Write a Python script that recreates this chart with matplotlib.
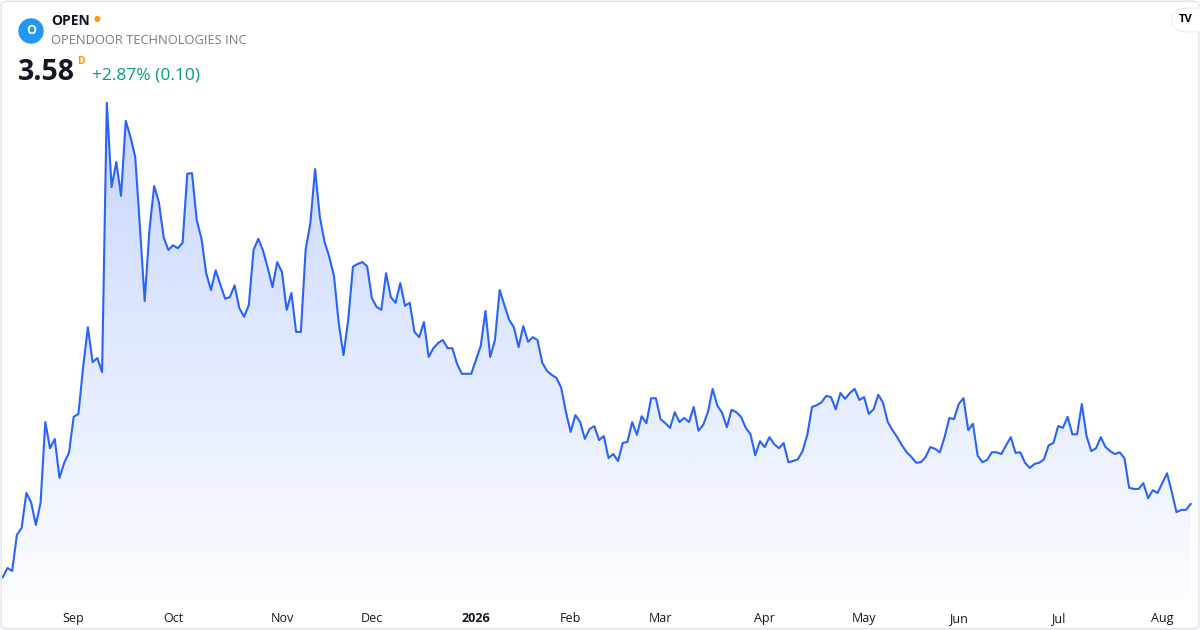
import matplotlib
matplotlib.use("Agg")
import matplotlib.pyplot as plt
import numpy as np
from matplotlib.colors import to_rgb
from matplotlib.patches import Circle, FancyBboxPatch

plt.rcParams["font.family"] = ["Open Sans", "DejaVu Sans"]

# daily closes (one per trading day)
prices = [
    2.32, 2.48, 2.43, 3.05, 3.17, 3.77, 3.61, 3.22, 3.60, 4.99,
    4.54, 4.70, 4.03, 4.29, 4.46, 5.08, 5.13, 5.94, 6.62, 6.02,
    6.09, 5.85, 10.48, 9.03, 9.46, 8.88, 10.17, 9.89, 9.55, 8.34,
    7.07, 8.29, 9.05, 8.77, 8.17, 7.95, 8.03, 7.98, 8.07, 9.26,
    9.27, 8.46, 8.14, 7.55, 7.26, 7.60, 7.35, 7.11, 7.14, 7.34,
    6.95, 6.80, 7.00, 7.95, 8.14, 7.94, 7.64, 7.31, 7.74, 7.57,
    6.92, 7.21, 6.54, 6.54, 7.95, 8.41, 9.34, 8.52, 8.09, 7.83,
    7.50, 6.69, 6.14, 6.75, 7.66, 7.71, 7.74, 7.67, 7.12, 6.97,
    6.92, 7.55, 7.14, 7.04, 7.38, 6.99, 7.04, 6.54, 6.45, 6.71,
    6.11, 6.26, 6.35, 6.40, 6.26, 6.26, 5.99, 5.82, 5.82, 5.82,
    6.06, 6.30, 6.90, 6.11, 6.40, 7.26, 7.00, 6.75, 6.62, 6.28,
    6.64, 6.37, 6.45, 6.40, 6.01, 5.87, 5.80, 5.75, 5.58, 5.16,
    4.82, 5.11, 4.99, 4.70, 4.87, 4.92, 4.68, 4.75, 4.37, 4.44,
    4.32, 4.63, 4.65, 4.99, 4.77, 5.09, 4.97, 5.40, 5.40, 5.04,
    4.97, 4.89, 5.16, 4.99, 5.06, 4.99, 5.25, 4.84, 4.94, 5.16,
    5.56, 5.27, 5.15, 4.90, 5.20, 5.16, 5.08, 4.89, 4.78, 4.42,
    4.66, 4.56, 4.73, 4.61, 4.54, 4.63, 4.30, 4.32, 4.35, 4.49,
    4.77, 5.25, 5.28, 5.33, 5.44, 5.42, 5.21, 5.49, 5.39, 5.49,
    5.56, 5.37, 5.42, 5.13, 5.21, 5.46, 5.32, 4.99, 4.85, 4.73,
    4.59, 4.47, 4.39, 4.29, 4.30, 4.39, 4.56, 4.53, 4.47, 4.73,
    5.06, 5.04, 5.30, 5.40, 4.85, 4.96, 4.41, 4.30, 4.34, 4.47,
    4.47, 4.44, 4.59, 4.73, 4.46, 4.47, 4.29, 4.20, 4.27, 4.29,
    4.35, 4.59, 4.63, 4.92, 4.89, 5.08, 4.78, 4.78, 5.30, 4.75,
    4.49, 4.54, 4.73, 4.56, 4.49, 4.44, 4.47, 4.37, 3.86, 3.84,
    3.84, 3.94, 3.68, 3.82, 3.77, 3.94, 4.11, 3.79, 3.44, 3.48,
    3.48, 3.58,
]

# first trading day of each month (index into prices) and its label
month_idx = [15, 36, 59, 78, 100, 120, 139, 161, 182, 202, 223, 245]
month_lbl = ["Sep", "Oct", "Nov", "Dec", "2026", "Feb", "Mar", "Apr",
             "May", "Jun", "Jul", "Aug"]

symbol = "OPEN"
company = "OPENDOOR TECHNOLOGIES INC"
last_price = "3.58"
change = "+2.87% (0.10)"

line_color = "#2962ff"
x = np.arange(len(prices))

W, H = 1200, 630


def fx(px):
    return px / W


def fy(py):
    return 1 - py / H


fig = plt.figure(figsize=(12, 6.3), dpi=100)
fig.patch.set_facecolor("white")
ax = fig.add_axes([0, fy(600), 1, (600 - 90) / H])
ymin, ymax = 1.93, 10.70
xmin, xmax = -0.57, len(prices) - 1 + 1.97
ax.set_xlim(xmin, xmax)
ax.set_ylim(ymin, ymax)
ax.set_facecolor("none")
for s in ax.spines.values():
    s.set_visible(False)
ax.set_yticks([])

# area under the line, fading from light blue to almost white
poly = ax.fill_between(x, prices, ymin, color="none", lw=0)
r, g, b = to_rgb(line_color)
img = np.zeros((256, 1, 4))
img[:, 0, 0], img[:, 0, 1], img[:, 0, 2] = r, g, b
img[:, 0, 3] = np.linspace(0.27, 0.015, 256)
im = ax.imshow(img, extent=[xmin, xmax, ymin, ymax], aspect="auto",
               origin="upper", zorder=1, interpolation="bilinear")
im.set_clip_path(poly.get_paths()[0], transform=ax.transData)

ax.plot(x, prices, color=line_color, lw=1.5, zorder=3,
        solid_joinstyle="round")

ax.set_xticks(month_idx)
ax.set_xticklabels(month_lbl, fontsize=9, color="#131722")
ax.tick_params(axis="x", length=0, pad=8.5)
for t in ax.get_xticklabels():
    if t.get_text() == "2026":
        t.set_fontweight("bold")

# card border
fig.patches.append(FancyBboxPatch((0.001, 0.002), 0.998, 0.996,
                                  boxstyle="round,pad=0,rounding_size=0.006",
                                  transform=fig.transFigure, fill=False,
                                  ec="#e0e3eb", lw=1.0, zorder=10))

# header
fig.patches.append(Circle((0.31, (H - 31) / 100), 0.12,
                          transform=fig.dpi_scale_trans, color="#2196f3",
                          zorder=11))
fig.text(fx(31), fy(31), "O", color="white", fontsize=9,
         fontweight="bold", ha="center", va="center", zorder=12)
fig.text(fx(51), fy(21), symbol, fontsize=10, fontweight="bold",
         color="#131722", va="center")
fig.text(fx(97), fy(20), "\u25cf", fontsize=5.5, color="#ff9800",
         va="center", ha="center")
fig.text(fx(51), fy(41), company, fontsize=9.3, color="#787b86",
         va="center")
fig.text(fx(18), fy(73), last_price, fontsize=20.5, fontweight="bold",
         color="#131722", va="center")
fig.text(fx(77), fy(61), "D", fontsize=7.5, fontweight="bold",
         color="#ff9800", va="center")
fig.text(fx(92), fy(76), change, fontsize=12.5, color="#089981",
         va="center")

# logo badge, top right
fig.patches.append(FancyBboxPatch((fx(1172), fy(32)), 40 / W, 24 / H,
                                  boxstyle="round,pad=0,rounding_size=0.015",
                                  transform=fig.transFigure, fc="white",
                                  ec="#eeeeee", lw=0.8, zorder=11))
fig.text(fx(1186), fy(20), "TV", fontsize=8, fontweight="bold",
         color="#000000", va="center", ha="center", zorder=12)

fig.savefig("out.png", dpi=100, facecolor="white")
